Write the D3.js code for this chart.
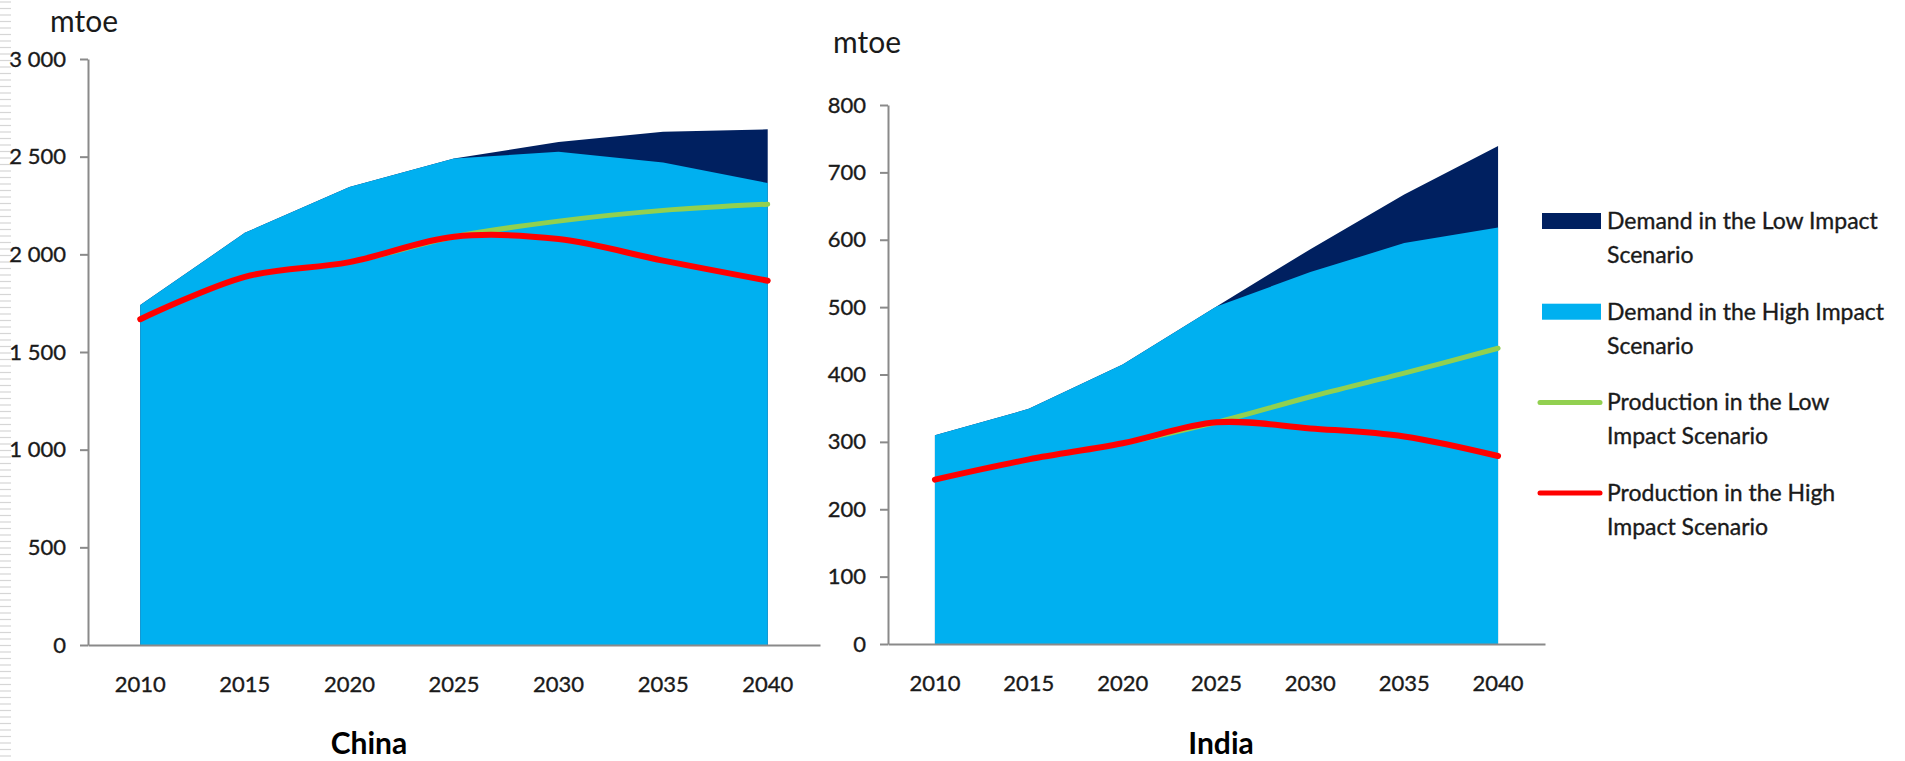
<!DOCTYPE html>
<html>
<head>
<meta charset="utf-8">
<script src="https://cdn.jsdelivr.net/npm/d3@7"></script>
<style>
  html, body { margin: 0; padding: 0; background: #ffffff; }
  svg { display: block; font-family: Lato, "Open Sans", "Noto Sans", sans-serif; }
  .lbl { stroke: #1a1a1a; stroke-width: 0.35px; }
</style>
</head>
<body>
<svg id="chart" width="1905" height="761"></svg>
<script>
// Projection years (categories)
const years = [2010, 2015, 2020, 2025, 2030, 2035, 2040];

// China, mtoe
const chinaDemandLow  = [1740, 2110, 2345, 2490, 2575, 2628, 2640];
const chinaDemandHigh = [1740, 2110, 2345, 2490, 2525, 2470, 2365];
const chinaProdLow    = [1668, 1885, 1960, 2090, 2170, 2225, 2257];
const chinaProdHigh   = [1668, 1885, 1960, 2090, 2078, 1968, 1865];
const chinaTicks      = [0, 500, 1000, 1500, 2000, 2500, 3000];

// India, mtoe
const indiaDemandLow  = [310, 349, 415, 501, 586, 667, 739];
const indiaDemandHigh = [310, 349, 415, 501, 552, 595, 618];
const indiaProdLow    = [244, 274, 298, 329, 367, 402, 439];
const indiaProdHigh   = [244, 274, 298, 329, 320, 308, 279];
const indiaTicks      = [0, 100, 200, 300, 400, 500, 600, 700, 800];

// Legend
const seriesNames = [
  ["Demand in the Low Impact", "Scenario"],
  ["Demand in the High Impact", "Scenario"],
  ["Production in the Low", "Impact Scenario"],
  ["Production in the High", "Impact Scenario"]
];
const seriesKinds = ["area", "area", "line", "line"];

const colors = {
  demandLow: "#002060",
  demandHigh: "#00b0f0",
  prodLow: "#92d050",
  prodHigh: "#ff0000",
  axis: "#8a8a8a",
  text: "#1a1a1a"
};
const legendColors = [colors.demandLow, colors.demandHigh, colors.prodLow, colors.prodHigh];

const svg = d3.select("#chart");

// faint striped edge on the left border
const stripes = svg.append("g");
stripes.selectAll("line")
  .data(d3.range(2, 761, 6.5))
  .join("line")
  .attr("x1", 0).attr("x2", 11)
  .attr("y1", d => d).attr("y2", d => d)
  .attr("stroke", "#d6d6d6")
  .attr("stroke-width", 1.2);

const spaceThousands = v => d3.format(",")(v).replace(/,/g, " ");

const panels = [
  {
    title: "China", titleX: 369, titleY: 754,
    unitX: 50, unitY: 32,
    left: 88, right: 820, top: 59, bottom: 645,
    max: 3000, ticks: chinaTicks,
    demandLow: chinaDemandLow, demandHigh: chinaDemandHigh,
    prodLow: chinaProdLow, prodHigh: chinaProdHigh
  },
  {
    title: "India", titleX: 1221, titleY: 754,
    unitX: 833, unitY: 53,
    left: 888, right: 1545, top: 105, bottom: 644,
    max: 800, ticks: indiaTicks,
    demandLow: indiaDemandLow, demandHigh: indiaDemandHigh,
    prodLow: indiaProdLow, prodHigh: indiaProdHigh
  }
];

panels.forEach(p => {
  const g = svg.append("g");

  const x = d3.scaleBand().domain(years).range([p.left, p.right]).padding(0);
  const cx = yr => x(yr) + x.bandwidth() / 2;
  const y = d3.scaleLinear().domain([0, p.max]).range([p.bottom, p.top]);

  const area = vals => d3.area()
    .x((d, i) => cx(years[i]))
    .y0(y(0))
    .y1(d => y(d))(vals);

  const line = vals => d3.line()
    .x((d, i) => cx(years[i]))
    .y(d => y(d))
    .curve(d3.curveCardinal.tension(0))(vals);

  // demand areas
  g.append("path").attr("d", area(p.demandLow)).attr("fill", colors.demandLow);
  g.append("path").attr("d", area(p.demandHigh)).attr("fill", colors.demandHigh);

  // production lines
  g.append("path").attr("d", line(p.prodLow))
    .attr("fill", "none").attr("stroke", colors.prodLow)
    .attr("stroke-width", 5).attr("stroke-linecap", "round");
  g.append("path").attr("d", line(p.prodHigh))
    .attr("fill", "none").attr("stroke", colors.prodHigh)
    .attr("stroke-width", 6).attr("stroke-linecap", "round")
    .attr("stroke-linejoin", "round");

  // y axis
  const yAxis = g.append("g")
    .attr("transform", `translate(${p.left},0)`)
    .call(d3.axisLeft(y).tickValues(p.ticks).tickSize(8).tickSizeOuter(0)
      .tickPadding(14).tickFormat(spaceThousands));
  yAxis.select(".domain").attr("stroke", colors.axis).attr("stroke-width", 2);
  yAxis.selectAll(".tick line").attr("stroke", colors.axis).attr("stroke-width", 2);
  yAxis.selectAll(".tick text")
    .attr("class", "lbl")
    .attr("fill", colors.text).style("font-size", "22px").style("font-family", "Lato, sans-serif");

  // x axis
  const xAxis = g.append("g")
    .attr("transform", `translate(0,${p.bottom})`)
    .call(d3.axisBottom(x).tickSize(0).tickSizeOuter(0).tickPadding(31));
  xAxis.select(".domain").attr("stroke", colors.axis).attr("stroke-width", 2);
  xAxis.selectAll(".tick text")
    .attr("class", "lbl")
    .attr("fill", colors.text).style("font-size", "22px").style("font-family", "Lato, sans-serif");

  // unit label
  g.append("text")
    .attr("x", p.unitX).attr("y", p.unitY)
    .attr("fill", colors.text)
    .style("font-size", "30px")
    .text("mtoe");

  // panel title
  g.append("text")
    .attr("x", p.titleX).attr("y", p.titleY)
    .attr("text-anchor", "middle")
    .attr("fill", "#000")
    .style("font-size", "30px").style("font-weight", "bold")
    .text(p.title);
});

// legend
const legend = svg.append("g").attr("transform", "translate(1538,221)");
const item = legend.selectAll("g")
  .data(seriesNames)
  .join("g")
  .attr("transform", (d, i) => `translate(0,${i * 90.7})`);

item.each(function (d, i) {
  const it = d3.select(this);
  if (seriesKinds[i] === "area") {
    it.append("rect")
      .attr("x", 4).attr("y", -8).attr("width", 59).attr("height", 16)
      .attr("fill", legendColors[i]);
  } else {
    it.append("line")
      .attr("x1", 2).attr("x2", 62).attr("y1", 0).attr("y2", 0)
      .attr("stroke", legendColors[i]).attr("stroke-width", 5)
      .attr("stroke-linecap", "round");
  }
  it.selectAll("text")
    .data(d)
    .join("text")
    .attr("class", "lbl")
    .attr("x", 69)
    .attr("y", (t, j) => 8 + j * 34)
    .attr("fill", colors.text)
    .style("font-size", "23px")
    .text(t => t);
});
</script>
</body>
</html>
